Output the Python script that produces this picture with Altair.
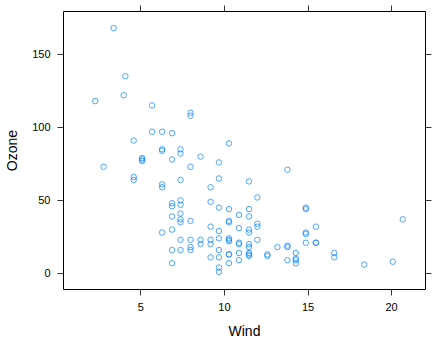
import altair as alt
import pandas as pd

wind = [7.4, 8.0, 12.6, 11.5, 14.9, 8.6, 13.8, 20.1, 6.9, 9.7, 9.2, 10.9, 13.2, 11.5,
        12.0, 18.4, 11.5, 9.7, 9.7, 16.6, 9.7, 12.0, 12.0, 14.9, 5.7, 7.4, 9.7, 13.8,
        11.5, 8.0, 14.9, 20.7, 9.2, 11.5, 10.3, 4.1, 9.2, 9.2, 4.6, 10.9, 5.1, 6.3,
        5.7, 7.4, 14.3, 14.9, 14.3, 6.9, 10.3, 6.3, 5.1, 11.5, 6.9, 8.6, 8.0, 8.6,
        12.0, 7.4, 7.4, 7.4, 9.2, 6.9, 13.8, 7.4, 6.9, 7.4, 4.6, 4.0, 10.3, 8.0,
        11.5, 11.5, 9.7, 10.3, 6.3, 7.4, 10.9, 10.3, 15.5, 14.3, 9.7, 3.4, 8.0, 9.7,
        2.3, 6.3, 6.3, 6.9, 5.1, 2.8, 4.6, 7.4, 15.5, 10.9, 10.3, 10.9, 9.7, 14.9,
        15.5, 6.3, 10.9, 11.5, 6.9, 13.8, 10.3, 10.3, 8.0, 12.6, 9.2, 10.3, 10.3,
        16.6, 6.9, 14.3, 8.0, 11.5]
ozone = [41, 36, 12, 18, 28, 23, 19, 8, 7, 16, 11, 14, 18, 14,
         34, 6, 30, 11, 1, 11, 4, 32, 23, 45, 115, 37, 29, 71,
         39, 23, 21, 37, 20, 12, 13, 135, 49, 32, 64, 40, 77, 97,
         97, 85, 10, 27, 7, 48, 35, 61, 79, 63, 16, 80, 108, 20,
         52, 82, 50, 64, 59, 39, 9, 16, 78, 35, 66, 122, 89, 110,
         44, 28, 65, 22, 59, 23, 31, 44, 21, 9, 45, 168, 73, 76,
         118, 84, 85, 96, 78, 73, 91, 47, 32, 20, 23, 21, 24, 44,
         21, 28, 9, 13, 46, 18, 13, 24, 16, 13, 23, 36, 7, 14,
         30, 14, 18, 20]

x_ticks = [5, 10, 15, 20]
y_ticks = [0, 50, 100, 150]
x_domain = [0.37, 22.03]
y_domain = [-10.69, 179.69]

df = pd.DataFrame({"Wind": wind, "Ozone": ozone})

FONT = "Liberation Sans"
common_axis = dict(domain=False, grid=False, ticks=True, tickSize=6, tickColor="#333333",
                   tickWidth=1, labelFont=FONT, labelFontSize=11, labelColor="#000000",
                   titleFont=FONT, titleFontSize=14, titleFontWeight="normal",
                   titleColor="#000000", values=None)

def axis(orient, show, title, values, pad, tpad):
    kw = dict(orient=orient, domain=False, grid=False, ticks=True, tickSize=6,
              tickColor="#333333", tickWidth=1, values=values,
              labelFont=FONT, labelFontSize=11, labelColor="#000000",
              titleFont=FONT, titleFontSize=14, titleFontWeight="normal",
              titleColor="#000000", labels=show, labelPadding=pad,
              titlePadding=tpad, labelAngle=0)
    if title:
        kw["title"] = title
    else:
        kw["title"] = None
    return alt.Axis(**kw)

pts = alt.Chart(df).mark_point(shape="circle", filled=False, color="#0080ff",
                               strokeWidth=1, size=30, clip=True).encode(
    x=alt.X("Wind:Q", scale=alt.Scale(domain=x_domain, nice=False, zero=False),
            axis=axis("bottom", True, "Wind", x_ticks, 6, 12)),
    y=alt.Y("Ozone:Q", scale=alt.Scale(domain=y_domain, nice=False, zero=False),
            axis=axis("left", True, "Ozone", y_ticks, 7, 12)),
)

ghost = alt.Chart(df).mark_point(opacity=0).encode(
    x=alt.X("Wind:Q", scale=alt.Scale(domain=x_domain, nice=False, zero=False),
            axis=axis("top", False, None, x_ticks, 2, 2)),
    y=alt.Y("Ozone:Q", scale=alt.Scale(domain=y_domain, nice=False, zero=False),
            axis=axis("right", False, None, y_ticks, 2, 2)),
)

chart = alt.layer(pts, ghost).resolve_axis(x="independent", y="independent").properties(
    width=362, height=278,
    autosize=alt.AutoSizeParams(type="none"),
    padding={"left": 63, "top": 11, "right": 17, "bottom": 59},
    background="white",
).configure_view(stroke="#000000", strokeWidth=1)

chart.save("out.html", embed_options={"renderer": "svg", "actions": False})
